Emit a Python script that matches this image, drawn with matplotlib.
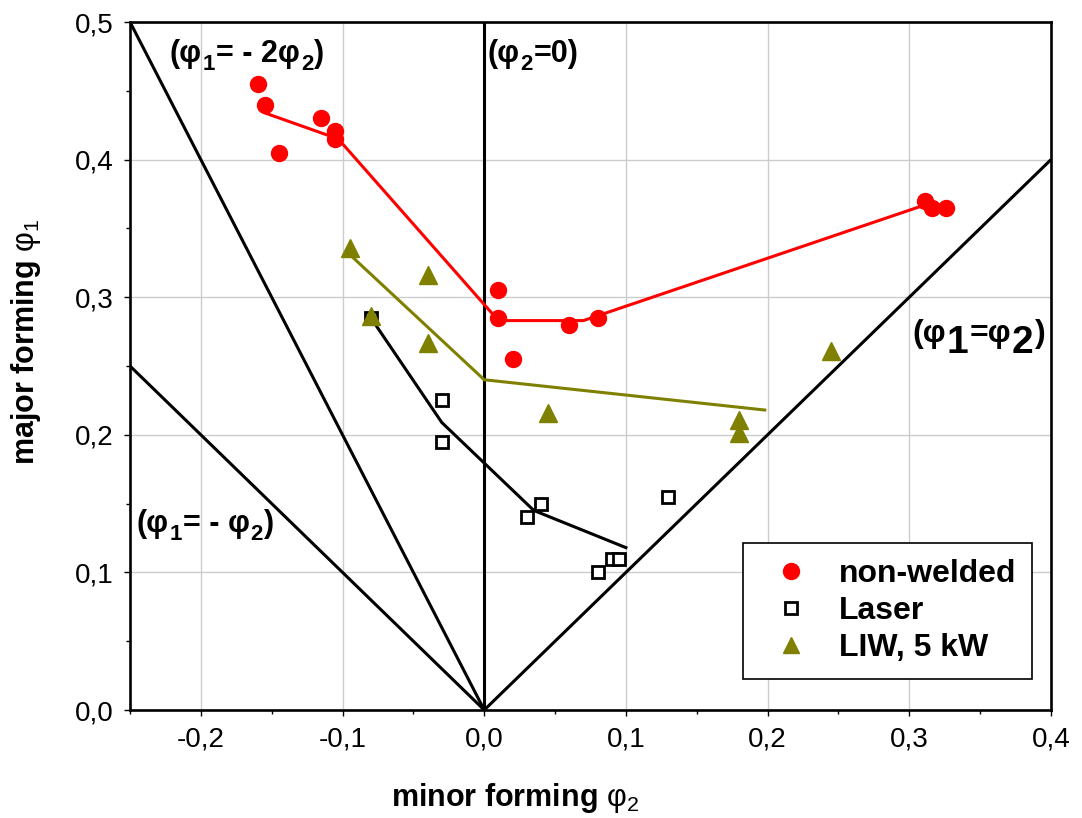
import matplotlib
matplotlib.use("Agg")
import matplotlib.pyplot as plt
from matplotlib.transforms import ScaledTranslation
from matplotlib.ticker import MultipleLocator, FixedLocator, FixedFormatter
from matplotlib.lines import Line2D

plt.rcParams["font.family"] = ["Liberation Sans", "DejaVu Sans"]
plt.rcParams["mathtext.fontset"] = "custom"
plt.rcParams["mathtext.rm"] = "Liberation Sans"
plt.rcParams["mathtext.bf"] = "Liberation Sans:bold"
plt.rcParams["mathtext.it"] = "Liberation Sans:italic"

# ---- measured forming strains ----
nonwelded_x = [-0.160, -0.155, -0.145, -0.115, -0.105, -0.105, 0.010, 0.010,
               0.020, 0.060, 0.080, 0.311, 0.316, 0.326]
nonwelded_y = [0.455, 0.440, 0.405, 0.430, 0.421, 0.415, 0.305, 0.285,
               0.255, 0.280, 0.285, 0.370, 0.365, 0.365]

laser_x = [-0.080, -0.030, -0.030, 0.030, 0.040, 0.080, 0.090, 0.095, 0.130]
laser_y = [0.285, 0.225, 0.195, 0.140, 0.150, 0.100, 0.110, 0.110, 0.155]

liw_x = [-0.095, -0.040, -0.080, -0.040, 0.045, 0.180, 0.180, 0.245]
liw_y = [0.336, 0.316, 0.286, 0.267, 0.216, 0.211, 0.201, 0.261]

# ---- forming limit curves ----
nonwelded_curve_x = [-0.155, -0.103, 0.010, 0.070, 0.308]
nonwelded_curve_y = [0.434, 0.415, 0.283, 0.283, 0.366]

laser_curve_x = [-0.080, -0.030, 0.035, 0.100]
laser_curve_y = [0.285, 0.209, 0.145, 0.118]

liw_curve_x = [-0.097, 0.000, 0.198]
liw_curve_y = [0.333, 0.240, 0.218]

# ---- strain path guide lines ----
deep_drawing_x = [-0.25, 0.0]        # phi1 = -2 phi2
deep_drawing_y = [0.50, 0.0]
pure_shear_x = [-0.25, 0.0]          # phi1 = -phi2
pure_shear_y = [0.25, 0.0]
plane_strain_x = [0.0, 0.0]          # phi2 = 0
plane_strain_y = [0.0, 0.5]
biaxial_x = [0.0, 0.4]               # phi1 = phi2
biaxial_y = [0.0, 0.4]

x_ticks = [-0.2, -0.1, 0.0, 0.1, 0.2, 0.3, 0.4]
x_tick_labels = ["-0,2", "-0,1", "0,0", "0,1", "0,2", "0,3", "0,4"]
y_ticks = [0.0, 0.1, 0.2, 0.3, 0.4, 0.5]
y_tick_labels = ["0,0", "0,1", "0,2", "0,3", "0,4", "0,5"]

RED = "#ff0000"
OLIVE = "#808000"

fig = plt.figure(figsize=(10.82, 8.18), dpi=100)
ax = fig.add_axes([130 / 1082, 108 / 818, 921 / 1082, 688 / 818])

ax.set_xlim(-0.25, 0.4)
ax.set_ylim(0.0, 0.5)
ax.xaxis.set_major_locator(FixedLocator(x_ticks))
ax.xaxis.set_major_formatter(FixedFormatter(x_tick_labels))
ax.yaxis.set_major_locator(FixedLocator(y_ticks))
ax.yaxis.set_major_formatter(FixedFormatter(y_tick_labels))
ax.xaxis.set_minor_locator(MultipleLocator(0.05))
ax.yaxis.set_minor_locator(MultipleLocator(0.05))
ax.tick_params(which="both", direction="out", width=1.0, labelsize=20,
               top=False, right=False)
ax.tick_params(which="major", length=4, pad=8)
ax.tick_params(which="minor", length=3)
ax.grid(True, which="major", color="#cccccc", linewidth=1.0)
ax.set_axisbelow(True)
for sp in ax.spines.values():
    sp.set_linewidth(1.9)
    sp.set_color("black")

# guide lines
guide_kw = dict(color="black", linewidth=2.2, solid_capstyle="butt", zorder=2)
ax.plot(deep_drawing_x, deep_drawing_y, **guide_kw)
ax.plot(pure_shear_x, pure_shear_y, **guide_kw)
ax.plot(plane_strain_x, plane_strain_y, **guide_kw)
ax.plot(biaxial_x, biaxial_y, **guide_kw)

# limit curves
ax.plot(nonwelded_curve_x, nonwelded_curve_y, color=RED, linewidth=2.2, zorder=3)
ax.plot(laser_curve_x, laser_curve_y, color="black", linewidth=2.2, zorder=3)
ax.plot(liw_curve_x, liw_curve_y, color=OLIVE, linewidth=2.2, zorder=3)

# measured points
ax.plot(nonwelded_x, nonwelded_y, linestyle="none", marker="o", markersize=11.5,
        markerfacecolor=RED, markeredgecolor=RED, zorder=4)
ax.plot(laser_x, laser_y, linestyle="none", marker="s", markersize=9,
        markerfacecolor="white", markeredgecolor="black", markeredgewidth=2.0,
        zorder=4)
ax.plot(liw_x, liw_y, linestyle="none", marker="^", markersize=12.5,
        markerfacecolor=OLIVE, markeredgecolor=OLIVE, zorder=5)

ax.set_xlabel(r"minor forming $\mathrm{φ_2}$", fontsize=22, fontweight="bold")
ax.set_ylabel(r"major forming $\mathrm{φ_1}$", fontsize=22, fontweight="bold")
ax.xaxis.set_label_coords(0.418, -0.103)
ax.yaxis.set_label_coords(-0.094, 0.535)

# legend
handles = [
    Line2D([], [], linestyle="none", marker="o", markersize=11.5,
           markerfacecolor=RED, markeredgecolor=RED),
    Line2D([], [], linestyle="none", marker="s", markersize=8,
           markerfacecolor="white", markeredgecolor="black", markeredgewidth=2.0),
    Line2D([], [], linestyle="none", marker="^", markersize=12,
           markerfacecolor=OLIVE, markeredgecolor=OLIVE),
]
leg = ax.legend(handles, ["non-welded", "Laser", "LIW, 5 kW"],
                loc="upper left", bbox_to_anchor=(0.6656, 0.2427),
                prop={"weight": "bold", "size": 23},
                frameon=True, fancybox=False, framealpha=1.0,
                edgecolor="black", borderpad=0.5, labelspacing=0.22,
                handlelength=2.0, handletextpad=0.5, borderaxespad=0.0)
leg.get_frame().set_linewidth(1.2)
leg.set_zorder(10)


def rich_label(x, y, parts):
    """Draw a bold label made of pieces with their own size and baseline drop."""
    renderer = fig.canvas.get_renderer()
    dx = 0.0
    for s, size, drop in parts:
        tr = ax.transAxes + ScaledTranslation(dx / 72.0, -drop / 72.0,
                                              fig.dpi_scale_trans)
        t = ax.text(x, y, s, transform=tr, fontsize=size, fontweight="bold",
                    ha="left", va="baseline", zorder=6)
        dx += (t.get_window_extent(renderer).width + 1.0) * 72.0 / fig.dpi


MAIN, SUB, DROP = 22, 16, 6
rich_label(0.0434, 0.9419, [("(φ", MAIN, 0), ("1", SUB, DROP),
                            ("= - 2φ", MAIN, 0), ("2", SUB, DROP), (")", MAIN, 0)])
rich_label(0.3880, 0.9419, [("(φ", MAIN, 0), ("2", SUB, DROP), ("=0)", MAIN, 0)])
rich_label(0.0070, 0.2587, [("(φ", MAIN, 0), ("1", SUB, DROP),
                            ("= - φ", MAIN, 0), ("2", SUB, DROP), (")", MAIN, 0)])
rich_label(0.8490, 0.5350, [("(φ", 23, 0), ("1", 28, 8),
                            ("=φ", 23, 0), ("2", 28, 8), (")", 23, 0)])

fig.savefig("out.png", dpi=100)
